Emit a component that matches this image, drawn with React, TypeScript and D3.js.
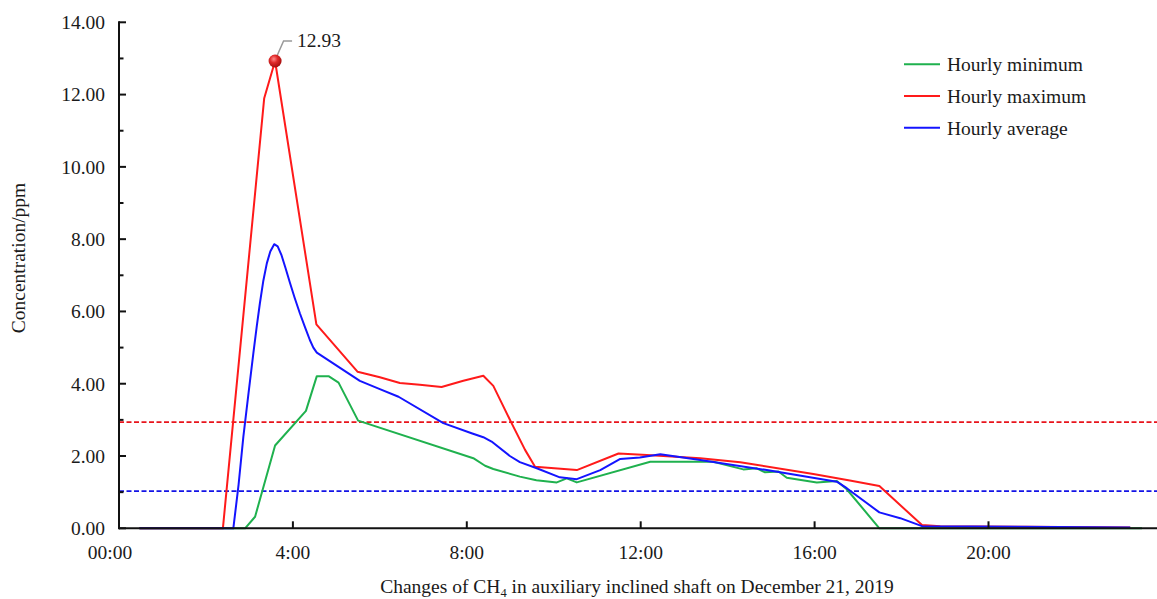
import React from "react";
import * as d3 from "d3";

// ---- data (time in decimal hours, concentration in ppm) ----
const minHours = [0.47, 2.9, 3.13, 3.59, 4.3, 4.55, 4.82, 5.05, 5.5, 8.15, 8.42, 8.61, 9.22, 9.6, 10.07, 10.3, 10.53, 12.22, 13.67, 14.36, 14.67, 14.86, 15.17, 15.36, 16.05, 16.51, 16.74, 17.49, 23.53];
const minValues = [0, 0, 0.32, 2.29, 3.25, 4.21, 4.21, 4.03, 2.98, 1.94, 1.73, 1.64, 1.43, 1.33, 1.27, 1.38, 1.27, 1.84, 1.84, 1.63, 1.66, 1.55, 1.57, 1.4, 1.27, 1.31, 1.08, 0, 0];

const maxHours = [0.47, 2.39, 3.34, 3.59, 4.54, 5.49, 6.0, 6.46, 6.92, 7.42, 7.92, 8.38, 8.61, 9.03, 9.34, 9.57, 10.53, 11.49, 12.14, 13.37, 14.29, 15.97, 16.81, 17.49, 18.47, 18.89, 20.88, 23.26];
const maxValues = [0, 0, 11.9, 12.93, 5.64, 4.33, 4.18, 4.02, 3.97, 3.91, 4.08, 4.22, 3.94, 2.91, 2.17, 1.7, 1.61, 2.07, 2.03, 1.94, 1.83, 1.5, 1.32, 1.17, 0.09, 0.06, 0.04, 0.02];

const avgHours = [0.47, 2.63, 2.75, 2.86, 2.98, 3.09, 3.17, 3.24, 3.32, 3.4, 3.48, 3.57, 3.65, 3.74, 3.83, 3.93, 4.04, 4.16, 4.28, 4.39, 4.47, 4.55, 5.54, 6.0, 6.43, 7.46, 8.11, 8.38, 8.57, 8.99, 9.22, 9.61, 10.14, 10.53, 11.07, 11.53, 11.98, 12.45, 13.37, 14.9, 16.51, 16.74, 17.49, 17.97, 18.47, 23.26];
const avgValues = [0, 0, 1.2, 2.53, 3.75, 4.84, 5.6, 6.22, 6.85, 7.33, 7.66, 7.86, 7.8, 7.55, 7.2, 6.8, 6.38, 5.95, 5.56, 5.21, 5.0, 4.86, 4.08, 3.85, 3.64, 2.91, 2.63, 2.52, 2.4, 2.0, 1.83, 1.66, 1.41, 1.36, 1.61, 1.92, 1.96, 2.05, 1.89, 1.61, 1.29, 1.11, 0.44, 0.28, 0.06, 0.02];

const maxLimit = 2.94;
const avgLimit = 1.03;

const xTickHours = [0, 4, 8, 12, 16, 20];
const xTickLabels = ["00:00", "4:00", "8:00", "12:00", "16:00", "20:00"];
const yMajorTicks = [0, 2, 4, 6, 8, 10, 12, 14];
const yMinorTicks = [1, 3, 5, 7, 9, 11, 13];

const seriesNames = ["Hourly minimum", "Hourly maximum", "Hourly average"];
const seriesColors = ["#1fb14e", "#ff1a1a", "#1414ff"];

const FONT = "'Liberation Serif', 'DejaVu Serif', 'Times New Roman', serif";
const TEXT = "#1a1a1a";

export default function App() {
  const W = 1157, H = 599;
  const x = d3.scaleLinear().domain([0, 24]).range([119, 1162.4]);
  const y = d3.scaleLinear().domain([0, 14]).range([528.3, 22.3]);

  const toPts = (hs: number[], vs: number[]) => hs.map((h, i) => [h, vs[i]] as [number, number]);
  const series = [toPts(minHours, minValues), toPts(maxHours, maxValues), toPts(avgHours, avgValues)];
  const line = d3.line<[number, number]>().x(d => x(d[0])).y(d => y(d[1]));

  const peakIdx = d3.maxIndex(maxValues);
  const px = x(maxHours[peakIdx]);
  const py = y(maxValues[peakIdx]);

  const fs = 19.5;
  const ts: React.CSSProperties = { fontFamily: FONT };

  return (
    <svg width={W} height={H} style={{ position: "absolute", left: 0, top: 0, background: "#fff", fontFamily: FONT }}>
      <defs>
        <radialGradient id="ball" cx="40%" cy="35%" r="65%">
          <stop offset="0%" stopColor="#ff8a8a" />
          <stop offset="45%" stopColor="#e02a2a" />
          <stop offset="100%" stopColor="#a50d0d" />
        </radialGradient>
      </defs>

      {/* threshold dashed lines */}
      <line x1={x(0)} x2={W} y1={y(maxLimit)} y2={y(maxLimit)} stroke="#e8141c" strokeWidth={1.8} strokeDasharray="5,2.5" />
      <line x1={x(0)} x2={W} y1={y(avgLimit)} y2={y(avgLimit)} stroke="#1414e6" strokeWidth={1.8} strokeDasharray="5,2.5" />

      {/* series */}
      {series.map((s, i) => (
        <path key={i} d={line(s) || ""} fill="none" stroke={seriesColors[i]} strokeWidth={2} strokeLinejoin="round" />
      ))}

      {/* axes */}
      <line x1={x(0)} x2={W} y1={y(0)} y2={y(0)} stroke="#111" strokeWidth={2} />
      <line x1={x(0)} x2={x(0)} y1={y(0) + 1} y2={y(14) - 1} stroke="#111" strokeWidth={2} />
      {yMajorTicks.map(t => (
        <g key={"ym" + t}>
          <line x1={x(0)} x2={x(0) + 7} y1={y(t)} y2={y(t)} stroke="#111" strokeWidth={2} />
          <text x={105} y={y(t)} dy="0.35em" textAnchor="end" fontSize={fs} fill={TEXT} style={ts}>{t.toFixed(2)}</text>
        </g>
      ))}
      {yMinorTicks.map(t => (
        <line key={"yn" + t} x1={x(0)} x2={x(0) + 4.5} y1={y(t)} y2={y(t)} stroke="#111" strokeWidth={2} />
      ))}
      {xTickHours.map((h, i) => (
        <g key={"x" + h}>
          {h > 0 && <line x1={x(h)} x2={x(h)} y1={y(0)} y2={y(0) - 7} stroke="#111" strokeWidth={2} />}
          <text x={x(h) + (h === 0 ? -9 : 0)} y={559} textAnchor="middle" fontSize={fs} fill={TEXT} style={ts}>{xTickLabels[i]}</text>
        </g>
      ))}

      {/* axis titles */}
      <text transform="translate(25,258) rotate(-90)" textAnchor="middle" fontSize={fs} fill={TEXT} style={ts}>Concentration/ppm</text>
      <text x={637} y={593} textAnchor="middle" fontSize={fs} fill={TEXT} style={ts}>
        Changes of CH<tspan fontSize={12.5} dy={4}>4</tspan><tspan dy={-4}> in auxiliary inclined shaft on December 21, 2019</tspan>
      </text>

      {/* peak annotation */}
      <polyline points={`${px + 1},${py - 3} ${px + 8.5},${py - 20} ${px + 17},${py - 20}`} fill="none" stroke="#999" strokeWidth={1.5} />
      <circle cx={px} cy={py} r={6.5} fill="url(#ball)" />
      <text x={px + 22} y={py - 14} fontSize={fs} fill={TEXT} style={ts}>{maxValues[peakIdx].toFixed(2)}</text>

      {/* legend */}
      {seriesNames.map((n, i) => {
        const ly = 64.3 + i * 31.7;
        return (
          <g key={n}>
            <line x1={904} x2={940} y1={ly} y2={ly} stroke={seriesColors[i]} strokeWidth={2} />
            <text x={947} y={ly} dy="0.35em" fontSize={fs} fill={TEXT} style={ts}>{n}</text>
          </g>
        );
      })}
    </svg>
  );
}
